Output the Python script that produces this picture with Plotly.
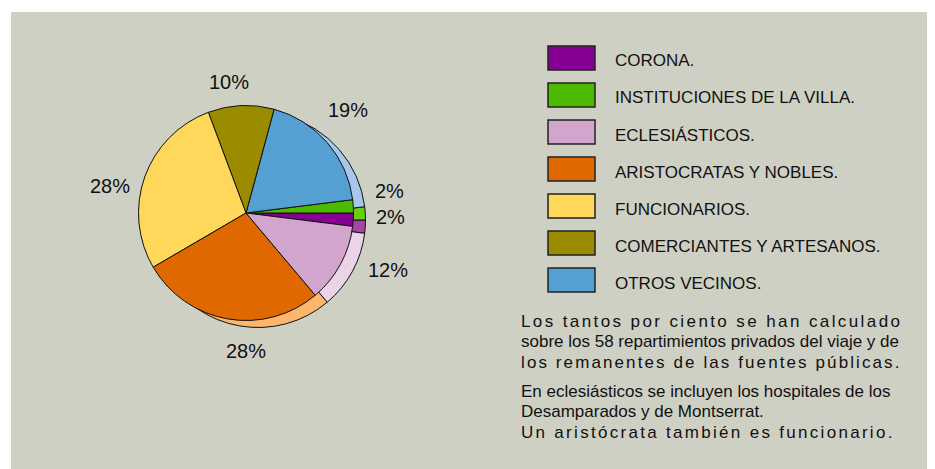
import math

import plotly.graph_objects as go

# ----- datos (orden de la leyenda) -----
CATEGORIAS = [
    "CORONA.",
    "INSTITUCIONES DE LA VILLA.",
    "ECLESIÁSTICOS.",
    "ARISTOCRATAS Y NOBLES.",
    "FUNCIONARIOS.",
    "COMERCIANTES Y ARTESANOS.",
    "OTROS VECINOS.",
]
PORCENTAJES = [2, 2, 12, 28, 28, 10, 19]
COLORES = ["#860094", "#4cbb00", "#d2a6cc", "#e06800", "#ffd75a", "#9b8b00", "#54a0d2"]
COLORES_SOMBRA = ["#a546a5", "#66cf14", "#ebd3e8", "#fcb76c", "#ffe79a", "#c2b440", "#a7c8ec"]

# orden de los sectores en la tarta (antihorario desde las 3)
ORDEN_TARTA = [0, 1, 6, 5, 4, 3, 2]

NOTA = [
    "Los tantos por ciento se han calculado",
    "sobre los 58 repartimientos privados del viaje y de",
    "los remanentes de las fuentes públicas.",
    "En eclesiásticos se incluyen los hospitales de los",
    "Desamparados y de Montserrat.",
    "Un aristócrata también es funcionario.",
]
NOTA_ESPACIADO = [2.4, 0, 2.1, 0, 0, 2.3]

# el body de la página tiene 8px de margen
OFF = 8
W, H = 935 - OFF, 469 - OFF
FONT = "Liberation Sans, Arial, sans-serif"
FONDO = "#cfd0c4"

CX, CY, R = 246, 213, 107.5        # tarta principal (px de pantalla)
SX, SY = 258, 220                  # centro de la sombra
LX, LY, GAP = 252, 217, 16         # centro y holgura de las etiquetas


def px(x):
    return (x - OFF) / W


def py(y):
    return 1 - (y - OFF) / H


def dominio(cx, cy, r):
    return dict(x=[px(cx - r), px(cx + r)], y=[py(cy + r), py(cy - r)])


vals = [PORCENTAJES[i] for i in ORDEN_TARTA]
labs = [CATEGORIAS[i] for i in ORDEN_TARTA]

fig = go.Figure()

# sombra / canto de la tarta
fig.add_trace(go.Pie(
    values=vals, labels=labs, sort=False, direction="counterclockwise", rotation=90,
    marker=dict(colors=[COLORES_SOMBRA[i] for i in ORDEN_TARTA], line=dict(color="#111", width=1)),
    textinfo="none", hoverinfo="skip", showlegend=False,
    domain=dominio(SX, SY, R),
))

# tarta principal
fig.add_trace(go.Pie(
    values=vals, labels=labs, sort=False, direction="counterclockwise", rotation=90,
    marker=dict(colors=[COLORES[i] for i in ORDEN_TARTA], line=dict(color="#111", width=1)),
    textinfo="none", showlegend=False,
    domain=dominio(CX, CY, R),
))

shapes = [dict(type="rect", xref="paper", yref="paper", x0=px(11), x1=1, y0=0, y1=py(12),
               fillcolor=FONDO, line=dict(width=0), layer="below")]
annotations = []

# etiquetas de porcentaje, en el ángulo medio de cada sector
total = sum(vals)
acum = 0
pos = []
for v in vals:
    th = math.radians((acum + v / 2) / total * 360)
    acum += v
    txt = f"{v}%"
    a = 0.5 * 20 * (0.556 * (len(txt) - 1) + 0.889)
    b = 10
    d = R + GAP + abs(a * math.cos(th)) + abs(b * math.sin(th))
    pos.append([LX + d * math.cos(th), LY - d * math.sin(th), txt])
# separar etiquetas demasiado juntas: la de ángulo menor baja
for k in range(len(pos) - 1):
    p, q = pos[k], pos[k + 1]
    if abs(p[1] - q[1]) < 26 and abs(p[0] - q[0]) < 30:
        p[1] = q[1] + 26
for x, y, txt in pos:
    annotations.append(dict(x=px(x), y=py(y), xref="paper", yref="paper", text=txt,
                            showarrow=False, xanchor="center", yanchor="middle",
                            font=dict(family=FONT, size=20, color="#111")))

# leyenda
for i, (cat, col) in enumerate(zip(CATEGORIAS, COLORES)):
    top = 46 + 37 * i
    shapes.append(dict(type="rect", xref="paper", yref="paper",
                       x0=px(548), x1=px(595), y0=py(top + 24), y1=py(top),
                       fillcolor=col, line=dict(color="#222", width=1.5)))
    annotations.append(dict(x=px(613), y=py(top + 15), xref="paper", yref="paper",
                            text=cat, showarrow=False, xanchor="left", yanchor="middle",
                            font=dict(family=FONT, size=17, color="#111")))

# nota
for j, (linea, esp) in enumerate(zip(NOTA, NOTA_ESPACIADO)):
    base = [327, 347, 368, 397, 417, 438][j]
    txt = f'<span style="letter-spacing:{esp}px">{linea}</span>' if esp else linea
    annotations.append(dict(x=px(519), y=py(base - 6), xref="paper", yref="paper",
                            text=txt, showarrow=False, xanchor="left", yanchor="middle",
                            font=dict(family=FONT, size=17, color="#111")))

fig.update_layout(
    width=W, height=H,
    margin=dict(l=0, r=0, t=0, b=0),
    paper_bgcolor="white", plot_bgcolor="white",
    shapes=shapes, annotations=annotations,
    showlegend=False,
)

fig.write_html("out.html", config={"displayModeBar": False})
